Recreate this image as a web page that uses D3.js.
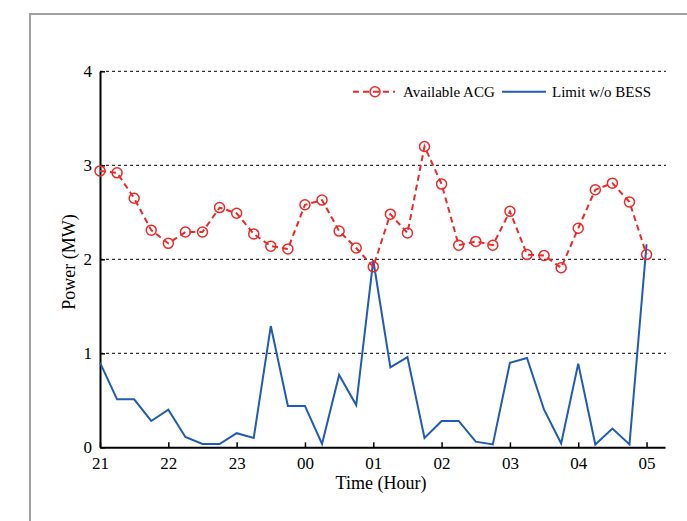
<!DOCTYPE html>
<html><head><meta charset="utf-8">
<script src="https://cdn.jsdelivr.net/npm/d3@7"></script>
<style>html,body{margin:0;padding:0;background:#fff;}svg{display:block;}</style>
</head><body>
<svg id="c" width="687" height="521"></svg>
<script>
const hourLabels = ["21","22","23","00","01","02","03","04","05"];
const yTicks = [0,1,2,3,4];
const availableACG = [2.94,2.92,2.65,2.31,2.17,2.29,2.29,2.55,2.49,2.27,2.14,2.11,2.58,2.63,2.30,2.12,
  1.92,2.48,2.28,3.20,2.80,2.15,2.19,2.15,2.51,2.05,2.04,1.91,2.33,2.74,2.81,2.61,2.05];
const limitWoBESS = [0.90,0.51,0.51,0.28,0.40,0.11,0.035,0.035,0.15,0.10,1.29,0.44,0.44,0.035,0.77,0.45,
  1.99,0.85,0.96,0.10,0.28,0.28,0.06,0.03,0.90,0.95,0.40,0.04,0.89,0.03,0.20,0.03,2.16];
const stepHours = 0.25;

const svg = d3.select("#c");
const serif = "'Liberation Serif','Times New Roman',serif";
const x = d3.scaleLinear().domain([0, 8.27]).range([100, 665]);
const y = d3.scaleLinear().domain([0, 4]).range([447.3, 71.3]);

// outer frame (top and left)
svg.append("path").attr("d","M30,521V14H687").attr("fill","none").attr("stroke","#a0a0a0").attr("stroke-width",2);

// grid
svg.append("g").selectAll("line").data(yTicks.filter(d=>d>0)).join("line")
  .attr("x1", x(0)).attr("x2", 666).attr("y1", d=>y(d)).attr("y2", d=>y(d))
  .attr("stroke","#000").attr("stroke-width",1).attr("stroke-dasharray","3,3");

// axes
const xAxis = d3.axisBottom(x).tickValues(d3.range(0,9)).tickFormat(i=>hourLabels[i]).tickSize(-5).tickSizeOuter(0).tickPadding(10);
const gx = svg.append("g").attr("transform",`translate(0,${y(0)})`).call(xAxis);
gx.select(".domain").attr("stroke-width",2);
gx.selectAll(".tick line").attr("stroke-width",1.5);
gx.selectAll("text").attr("font-family",serif).attr("font-size",17).attr("fill","#000");

const yAxis = d3.axisLeft(y).tickValues(yTicks).tickFormat(d3.format("d")).tickSize(-5).tickSizeOuter(0).tickPadding(8);
const gy = svg.append("g").attr("transform",`translate(${x(0)},0)`).call(yAxis);
gy.select(".domain").attr("stroke-width",2);
gy.selectAll(".tick line").attr("stroke-width",1.5);
gy.selectAll("text").attr("font-family",serif).attr("font-size",17).attr("fill","#000");

// axis titles
svg.append("text").attr("x",381).attr("y",489).attr("text-anchor","middle")
  .attr("font-family",serif).attr("font-size",18).text("Time (Hour)");
svg.append("text").attr("transform","translate(75,262) rotate(-90)").attr("text-anchor","middle")
  .attr("font-family",serif).attr("font-size",18).text("Power (MW)");

const red = "#f02828", blue = "#1f5cb8";
const line = d3.line().x((d,i)=>x(i*stepHours)).y(d=>y(d));

svg.append("path").datum(limitWoBESS).attr("d",line).attr("fill","none")
  .attr("stroke",blue).attr("stroke-width",2).attr("stroke-linejoin","miter");

svg.append("path").datum(availableACG).attr("d",line).attr("fill","none")
  .attr("stroke",red).attr("stroke-width",2).attr("stroke-dasharray","6,4");
svg.append("g").selectAll("circle").data(availableACG).join("circle")
  .attr("cx",(d,i)=>x(i*stepHours)).attr("cy",d=>y(d)).attr("r",5)
  .attr("fill","none").attr("stroke",red).attr("stroke-width",1.5);

// legend
const ly = 91.7;
const lg = svg.append("g");
lg.append("line").attr("x1",353).attr("x2",395).attr("y1",ly).attr("y2",ly)
  .attr("stroke",red).attr("stroke-width",2).attr("stroke-dasharray","6,4");
lg.append("circle").attr("cx",375).attr("cy",ly).attr("r",5).attr("fill","none").attr("stroke",red).attr("stroke-width",1.5);
lg.append("text").attr("x",403).attr("y",ly+5).attr("font-family",serif).attr("font-size",15).text("Available ACG");
lg.append("line").attr("x1",502).attr("x2",546).attr("y1",ly).attr("y2",ly).attr("stroke",blue).attr("stroke-width",2);
lg.append("text").attr("x",552).attr("y",ly+5).attr("font-family",serif).attr("font-size",15).text("Limit w/o BESS");
</script>
</body></html>
